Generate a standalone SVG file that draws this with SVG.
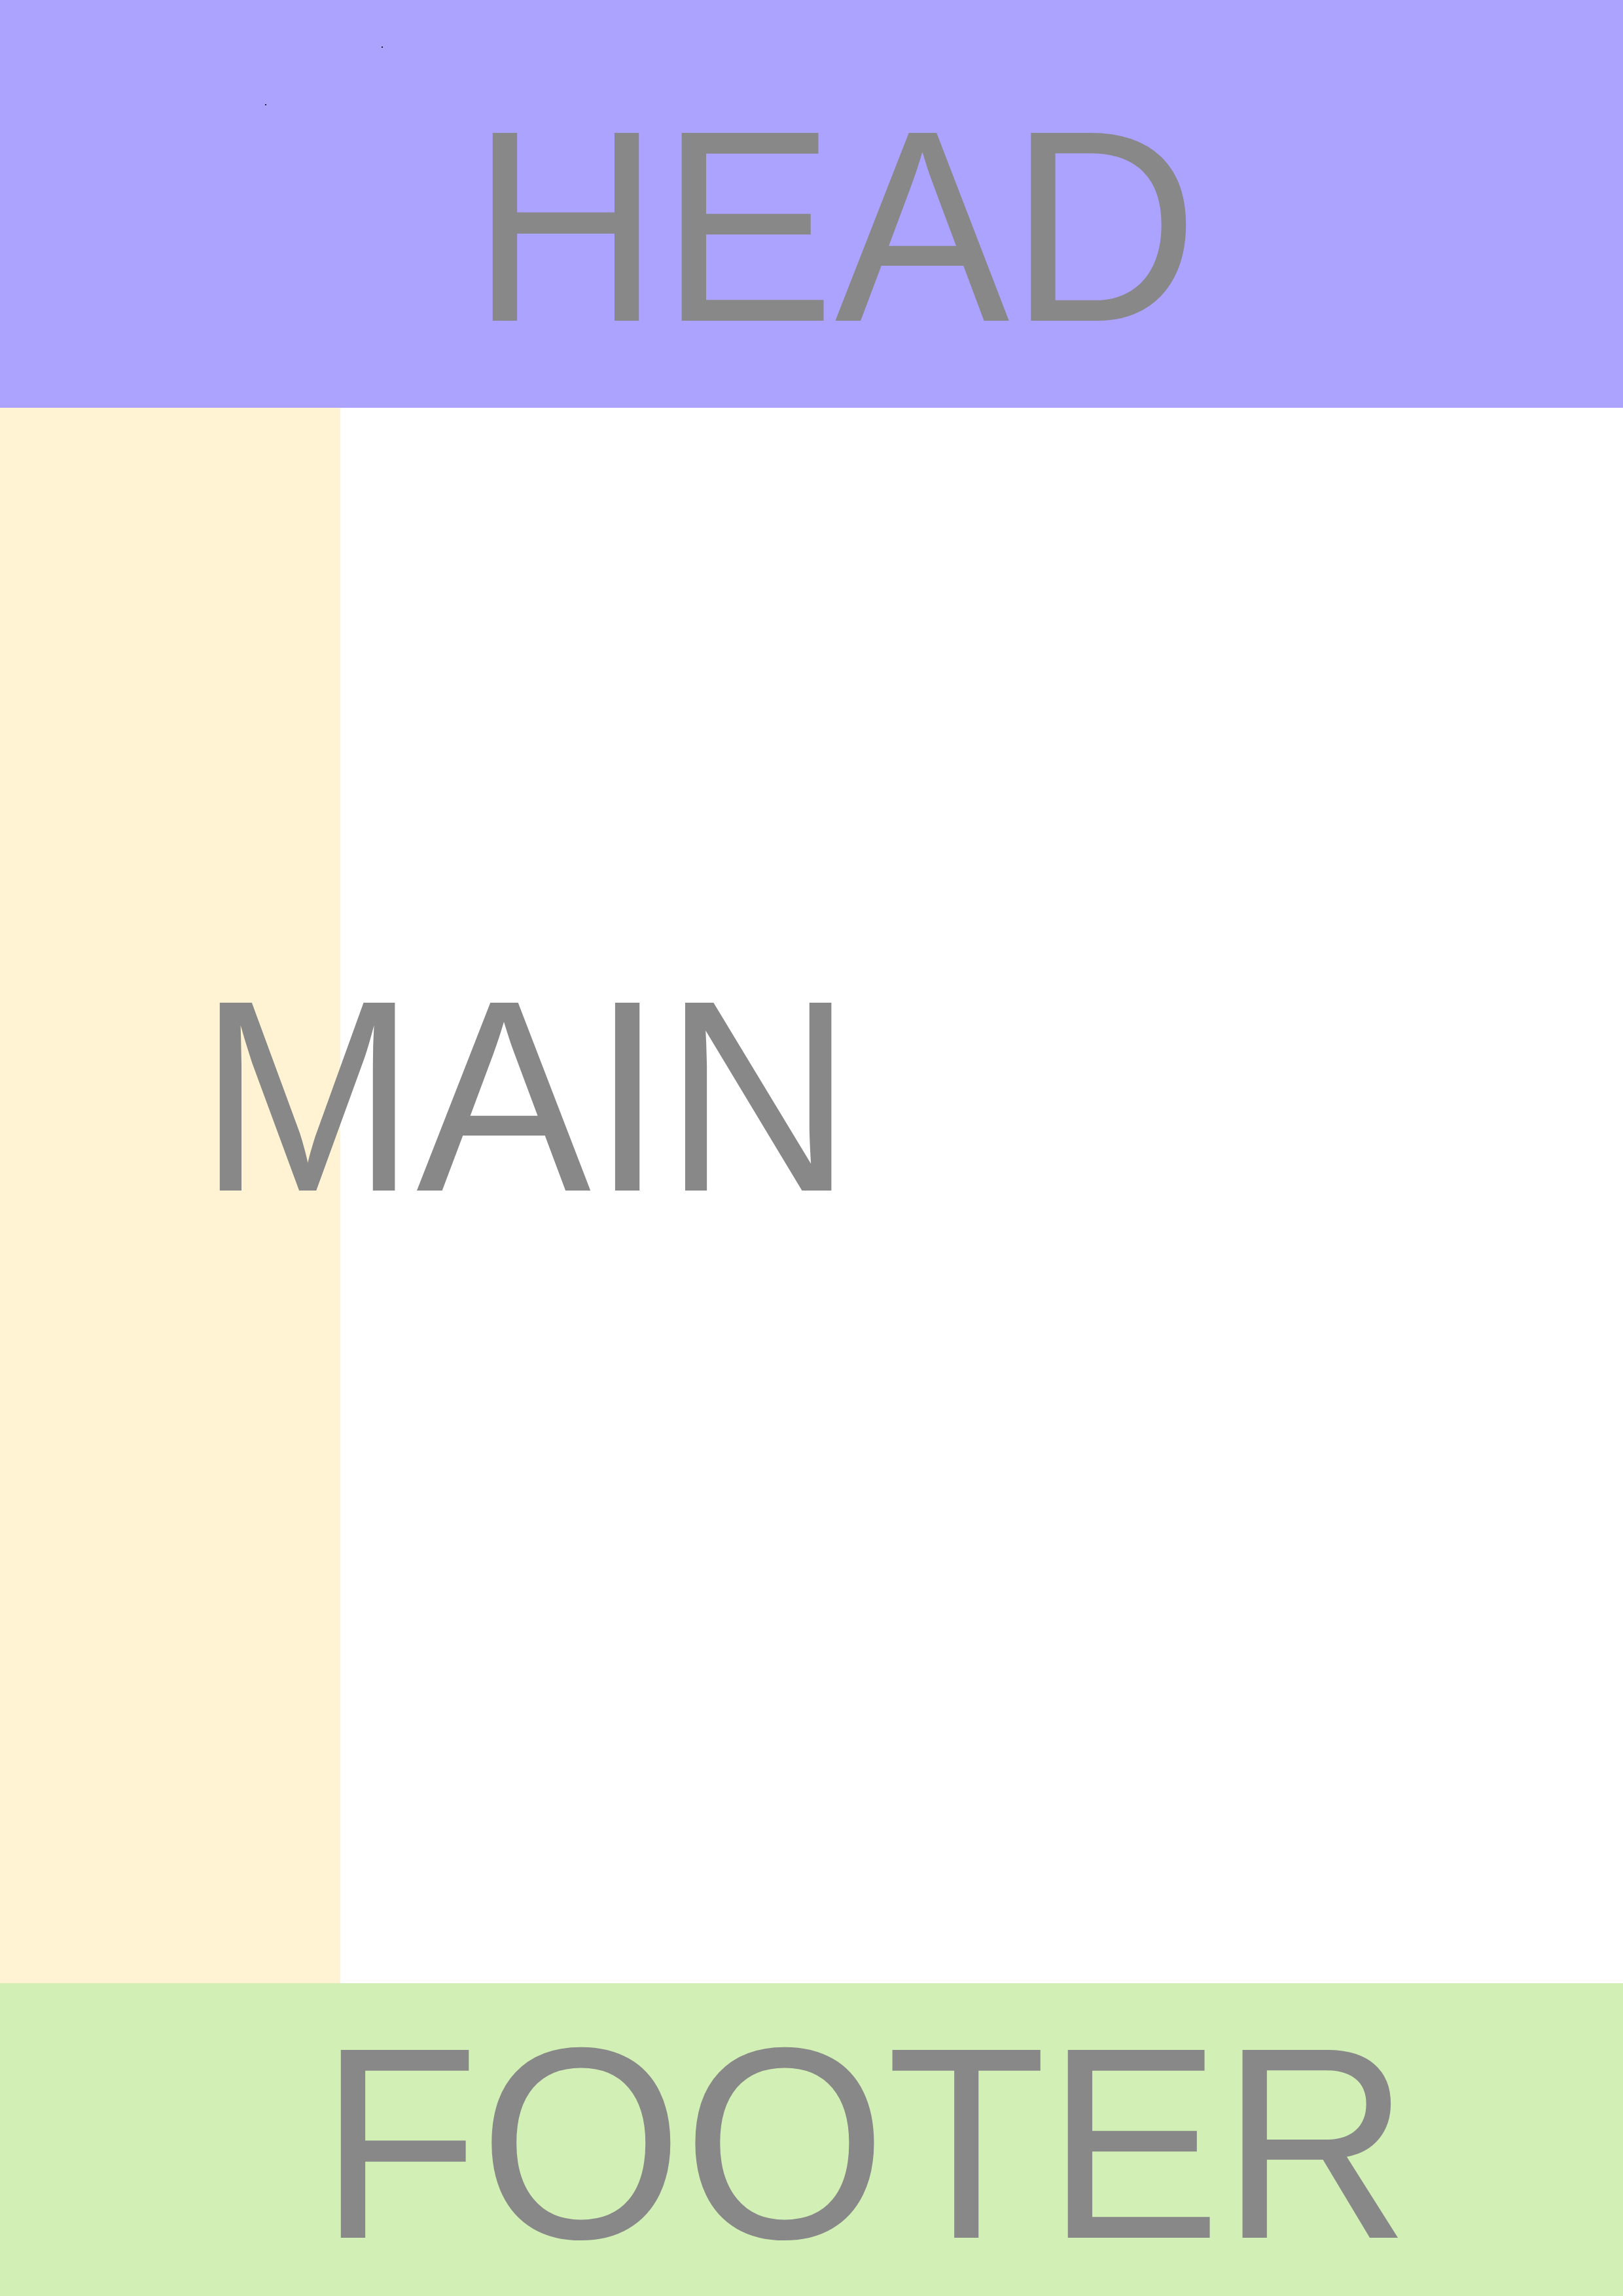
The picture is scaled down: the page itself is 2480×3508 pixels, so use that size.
<svg xmlns="http://www.w3.org/2000/svg" width="2480" height="3508" viewBox="0 0 2480 3508">
<style>
.lbl{font-family:"Liberation Sans",Arial,sans-serif;font-size:400px;fill:#888888}
</style>
<rect x="0" y="0" width="2480" height="3508" fill="#ffffff"/>
<g id="sidebar"><rect x="0" y="623" width="520" height="2408" fill="#FFF3D3"/></g>
<g id="head">
<rect x="0" y="0" width="2480" height="623" fill="#ACA2FF"/>
<rect x="583" y="71" width="2" height="2" fill="#222244"/>
<rect x="405" y="159" width="2" height="2" fill="#222244"/>
<text class="lbl" transform="translate(720 490) scale(1 1.043)">HEAD</text>
</g>
<g id="main"><text class="lbl" transform="translate(303 1819) scale(1 1.043)">MAIN</text></g>
<g id="footer">
<rect x="0" y="3030" width="2480" height="478" fill="#D2F0B5"/>
<text class="lbl" transform="translate(488 3419) scale(1 1.043)">FOOTER</text>
</g>
<g id="connectors"/>
</svg>
